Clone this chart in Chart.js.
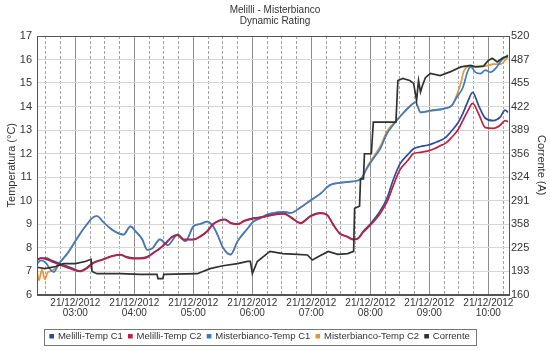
<!DOCTYPE html>
<html lang="it">
<head>
<meta charset="UTF-8">
<title>Melilli - Misterbianco</title>
<script src="https://cdn.jsdelivr.net/npm/chart.js"></script>
<style>
  html, body { margin: 0; padding: 0; background: #fff; }
  #wrap { width: 550px; height: 351px; }
</style>
</head>
<body>
<div id="wrap"><canvas id="rating-chart" width="550" height="351"></canvas></div>
<script>
  // etichette assi
  const dateLabel = '21/12/2012';
  const hourLabels = ['03:00', '04:00', '05:00', '06:00', '07:00', '08:00', '09:00', '10:00'];
  const correnteTicks = ['160', '193', '225', '358', '291', '324', '356', '389', '422', '455', '487', '520'];

  // Melilli (C1 e C2 hanno gli stessi istanti)
  const melilliTimes = [
    '02:21', '02:25', '02:30', '02:36', '02:45', '02:55', '03:05', '03:12', '03:18', '03:28',
    '03:38', '03:46', '03:52', '03:59', '04:06', '04:13', '04:20', '04:26', '04:32', '04:38',
    '04:44', '04:50', '05:00', '05:07', '05:14', '05:20', '05:26', '05:32', '05:38', '05:45',
    '05:52', '06:01', '06:10', '06:20', '06:32', '06:39', '06:49', '06:59', '07:09', '07:16',
    '07:22', '07:29', '07:36', '07:43', '07:47', '07:53', '08:00', '08:10', '08:17', '08:23',
    '08:30', '08:38', '08:44', '08:51', '08:58', '09:05', '09:11', '09:17', '09:23', '09:29',
    '09:34', '09:39', '09:44', '09:50', '09:57', '10:05', '10:12', '10:17', '10:20'
  ];
  const melilliC1 = [
    7.45, 7.55, 7.55, 7.45, 7.3, 7.15, 7.0, 7.15, 7.35, 7.5,
    7.65, 7.7, 7.6, 7.55, 7.55, 7.6, 7.8, 7.97, 8.2, 8.45,
    8.55, 8.35, 8.35, 8.48, 8.7, 9.0, 9.15, 9.2, 9.05, 9.0,
    9.15, 9.25, 9.3, 9.4, 9.45, 9.3, 9.05, 9.34, 9.47, 9.4,
    9.0, 8.6, 8.48, 8.35, 8.38, 8.7, 9.0, 9.55, 10.1, 10.85,
    11.55, 11.95, 12.2, 12.3, 12.35, 12.45, 12.55, 12.7, 12.98, 13.3,
    13.7, 14.2, 14.6, 14.05, 13.5, 13.4, 13.55, 13.85, 13.75
  ];
  const melilliC2 = [
    7.5, 7.55, 7.5, 7.4, 7.25, 7.1, 6.98, 7.12, 7.33, 7.48,
    7.63, 7.68, 7.58, 7.53, 7.53, 7.58, 7.78, 7.95, 8.18, 8.43,
    8.53, 8.33, 8.33, 8.46, 8.68, 8.98, 9.13, 9.18, 9.03, 8.98,
    9.13, 9.23, 9.28, 9.38, 9.43, 9.28, 9.03, 9.32, 9.45, 9.38,
    8.98, 8.58, 8.46, 8.33, 8.36, 8.66, 8.95, 9.45, 9.95, 10.6,
    11.3, 11.7, 12.0, 12.05, 12.1, 12.2, 12.33, 12.45, 12.7, 13.0,
    13.4, 13.8, 14.13, 13.7, 13.1, 13.07, 13.2, 13.4, 13.35
  ];

  // Misterbianco C1
  const mbC1Times = [
    '02:21', '02:25', '02:30', '02:34', '02:38', '02:42', '02:45', '02:52', '02:58', '03:05',
    '03:12', '03:17', '03:22', '03:28', '03:36', '03:44', '03:49', '03:56', '04:01', '04:08',
    '04:13', '04:18', '04:26', '04:34', '04:44', '04:52', '05:00', '05:07', '05:14', '05:20',
    '05:25', '05:30', '05:38', '05:45', '05:55', '06:01', '06:08', '06:15', '06:25', '06:32',
    '06:39', '06:49', '06:59', '07:09', '07:19', '07:29', '07:40', '07:50', '07:57', '08:03',
    '08:10', '08:17', '08:23', '08:33', '08:40', '08:46', '08:51', '09:01', '09:14', '09:23',
    '09:28', '09:34', '09:39', '09:42', '09:47', '09:52', '09:57', '10:02', '10:09', '10:12',
    '10:20'
  ];
  const mbC1 = [
    7.3, 7.45, 7.35, 7.1, 6.95, 7.2, 7.4, 7.75, 8.14, 8.6,
    9.0, 9.25, 9.34, 9.1, 8.8, 8.6, 8.55, 8.9, 8.7, 8.35,
    7.9, 7.95, 8.35, 8.1, 8.55, 8.27, 8.9, 9.0, 9.1, 8.9,
    8.5, 8.0, 7.7, 8.27, 8.8, 9.1, 9.25, 9.4, 9.5, 9.52,
    9.47, 9.7, 10.0, 10.28, 10.66, 10.75, 10.8, 10.9, 11.4, 11.78,
    12.2, 12.85, 13.2, 13.7, 14.0, 14.18, 13.75, 13.83, 13.9, 14.05,
    14.4, 14.8, 15.5, 15.7, 15.45, 15.4, 15.55, 15.46, 15.7, 15.9,
    16.2
  ];

  // Misterbianco C2
  const mbC2Times = [
    '02:21', '02:23', '02:26', '02:29', '02:32', '02:36', '02:40', '02:45', '02:52', '02:58',
    '03:05', '03:12', '03:17', '03:22', '03:28', '03:36', '03:44', '03:49', '03:56', '04:01',
    '04:08', '04:13', '04:18', '04:26', '04:34', '04:44', '04:52', '05:00', '05:07', '05:14',
    '05:20', '05:25', '05:30', '05:38', '05:45', '05:55', '06:01', '06:08', '06:15', '06:25',
    '06:32', '06:39', '06:49', '06:59', '07:09', '07:19', '07:29', '07:40', '07:50', '07:57',
    '08:03', '08:10', '08:17', '08:23', '08:33', '08:40', '08:46', '08:51', '09:01', '09:14',
    '09:23', '09:28', '09:32', '09:35', '09:40', '09:52', '10:00', '10:05', '10:12', '10:20'
  ];
  const mbC2 = [
    7.0, 6.6, 7.05, 6.65, 6.95, 7.0, 7.15, 7.4, 7.75, 8.14,
    8.6, 9.0, 9.25, 9.34, 9.1, 8.8, 8.6, 8.55, 8.9, 8.7,
    8.35, 7.9, 7.95, 8.35, 8.1, 8.55, 8.27, 8.9, 9.0, 9.1,
    8.9, 8.5, 8.0, 7.7, 8.27, 8.8, 9.1, 9.25, 9.4, 9.5,
    9.52, 9.47, 9.7, 10.0, 10.28, 10.66, 10.75, 10.8, 10.9, 11.45,
    11.85, 12.3, 12.95, 13.25, 13.7, 14.0, 14.18, 13.75, 13.8, 13.9,
    14.05, 14.5, 15.0, 15.5, 15.7, 15.7, 15.75, 15.8, 15.8, 16.1
  ];

  // Corrente (A)
  const correnteTimes = [
    '02:21', '02:29', '02:40', '02:48', '03:00', '03:10', '03:16', '03:17', '03:22', '03:46',
    '04:06', '04:23', '04:24', '04:29', '04:30', '05:04', '05:17', '05:30', '05:45', '05:55',
    '05:58', '06:00', '06:05', '06:15', '06:18', '06:31', '06:46', '06:56', '07:01', '07:06',
    '07:17', '07:27', '07:37', '07:43', '07:44', '07:49', '07:50', '07:53', '07:54', '08:01',
    '08:03', '08:26', '08:28', '08:33', '08:40', '08:44', '08:47', '08:49', '08:51', '08:53',
    '08:56', '09:01', '09:11', '09:21', '09:32', '09:42', '09:47', '09:55', '10:00', '10:04',
    '10:09', '10:14', '10:20'
  ];
  const corrente = [
    198, 196, 199, 203, 203, 206, 209, 192, 189, 189,
    188, 188, 182, 182, 188, 189, 196, 200, 203, 206,
    206, 189, 206, 217, 220, 217, 216, 215, 208, 212,
    220, 216, 217, 220, 280, 283, 321, 321, 356, 356,
    400, 400, 458, 461, 458, 454, 430, 458, 442, 451,
    462, 468, 465, 470, 477, 479, 477, 478, 486, 489,
    484, 489, 492
  ];

  function toMinutes(t) {
    const parts = t.split(':');
    return Number(parts[0]) * 60 + Number(parts[1]);
  }
  function toPoints(times, values) {
    return times.map((t, i) => ({ x: toMinutes(t), y: values[i] }));
  }

  const isHour = ctx => ctx.tick && ctx.tick.value % 60 === 0;

  // cornice dell'area del grafico e della legenda; legenda un po' spostata a sinistra
  const frames = {
    id: 'frames',
    afterLayout(chart) {
      chart.legend.right -= 30;
    },
    afterDraw(chart) {
      const c = chart.ctx;
      const a = chart.chartArea;
      c.save();
      c.strokeStyle = '#555';
      c.lineWidth = 1;
      c.strokeRect(Math.round(a.left) + 0.5, Math.round(a.top) + 0.5,
        Math.round(a.right - a.left), Math.round(a.bottom - a.top));
      const boxes = chart.legend.legendHitBoxes;
      if (boxes && boxes.length) {
        const left = Math.min(...boxes.map(b => b.left)) - 6;
        const right = Math.max(...boxes.map(b => b.left + b.width)) + 6;
        const top = boxes[0].top - 3;
        const h = boxes[0].height + 6;
        c.strokeStyle = '#777';
        c.strokeRect(Math.round(left) + 0.5, Math.round(top) + 0.5, Math.round(right - left), Math.round(h));
      }
      c.restore();
    }
  };

  const font = { family: 'Liberation Sans, Arial, sans-serif', size: 11 };

  new Chart(document.getElementById('rating-chart'), {
    type: 'line',
    data: {
      datasets: [
        {
          label: 'Melilli-Temp C1',
          data: toPoints(melilliTimes, melilliC1),
          borderColor: '#2d4c9c', backgroundColor: '#2d4c9c',
          yAxisID: 'y', order: 2, cubicInterpolationMode: 'monotone'
        },
        {
          label: 'Melilli-Temp C2',
          data: toPoints(melilliTimes, melilliC2),
          borderColor: '#c02140', backgroundColor: '#c02140',
          yAxisID: 'y', order: 1, cubicInterpolationMode: 'monotone'
        },
        {
          label: 'Misterbianco-Temp C1',
          data: toPoints(mbC1Times, mbC1),
          borderColor: '#3a7cc8', backgroundColor: '#3a7cc8',
          yAxisID: 'y', order: 3, cubicInterpolationMode: 'monotone'
        },
        {
          label: 'Misterbianco-Temp C2',
          data: toPoints(mbC2Times, mbC2),
          borderColor: '#e5953e', backgroundColor: '#e5953e',
          yAxisID: 'y', order: 4, cubicInterpolationMode: 'monotone'
        },
        {
          label: 'Corrente',
          data: toPoints(correnteTimes, corrente),
          borderColor: '#2e332e', backgroundColor: '#2e332e',
          yAxisID: 'y1', order: 0
        }
      ]
    },
    options: {
      responsive: false,
      animation: false,
      devicePixelRatio: 1,
      parsing: false,
      elements: {
        point: { radius: 0 },
        line: { borderWidth: 1.7, tension: 0 }
      },
      layout: { padding: { left: 2, right: 2, top: 0, bottom: 0 } },
      plugins: {
        title: {
          display: true,
          text: ['Melilli - Misterbianco', 'Dynamic Rating'],
          color: '#333',
          font: { family: font.family, size: 10, weight: 'normal', lineHeight: 1.15 },
          padding: { top: 4, bottom: 9 }
        },
        legend: {
          position: 'bottom',
          labels: {
            color: '#333',
            font: { family: font.family, size: 9.5 },
            boxWidth: 3,
            boxHeight: 3,
            padding: 6,
            sort: (a, b) => a.datasetIndex - b.datasetIndex
          }
        },
        tooltip: { enabled: false }
      },
      scales: {
        x: {
          type: 'linear',
          min: toMinutes('02:21'),
          max: toMinutes('10:21'),
          afterBuildTicks: s => {
            s.ticks = [];
            for (let v = toMinutes('02:30'); v <= toMinutes('10:15'); v += 15) s.ticks.push({ value: v });
          },
          afterFit: s => { s.height = 31; },
          ticks: {
            autoSkip: false,
            maxRotation: 0,
            padding: 3,
            color: '#333',
            font: { family: font.family, size: 10, lineHeight: 1.05 },
            callback: v => v % 60 === 0 ? [dateLabel, hourLabels[v / 60 - 3]] : ''
          },
          grid: {
            drawTicks: false,
            color: ctx => isHour(ctx) ? '#8c8c8c' : '#a4a4a4',
            lineWidth: 1
          },
          border: {
            color: '#555',
            dash: ctx => (ctx.tick && ctx.tick.value % 60 !== 0) ? [3, 2] : []
          }
        },
        y: {
          position: 'left',
          min: 6,
          max: 17,
          afterFit: s => { s.width = 35; },
          ticks: { stepSize: 1, padding: 5, color: '#333', font: { family: font.family, size: 11 } },
          grid: { drawTicks: false, color: '#d6d6d6' },
          border: { color: '#555' },
          title: {
            display: true,
            text: 'Temperatura (°C)',
            color: '#333',
            font: { family: font.family, size: 11 },
            padding: { top: 3, bottom: 0 }
          }
        },
        y1: {
          position: 'right',
          min: 160,
          max: 520,
          afterBuildTicks: s => {
            s.ticks = correnteTicks.map((t, i) => ({ value: 160 + i * 360 / 11 }));
          },
          afterFit: s => { s.width = 39; },
          ticks: {
            padding: 2,
            color: '#333',
            font: { family: font.family, size: 11 },
            callback: (v, i) => correnteTicks[i]
          },
          grid: { drawOnChartArea: false, drawTicks: false },
          border: { color: '#555' },
          title: {
            display: true,
            text: 'Corrente (A)',
            color: '#333',
            font: { family: font.family, size: 11 },
            padding: 0
          }
        }
      }
    },
    plugins: [frames]
  });
</script>
</body>
</html>
